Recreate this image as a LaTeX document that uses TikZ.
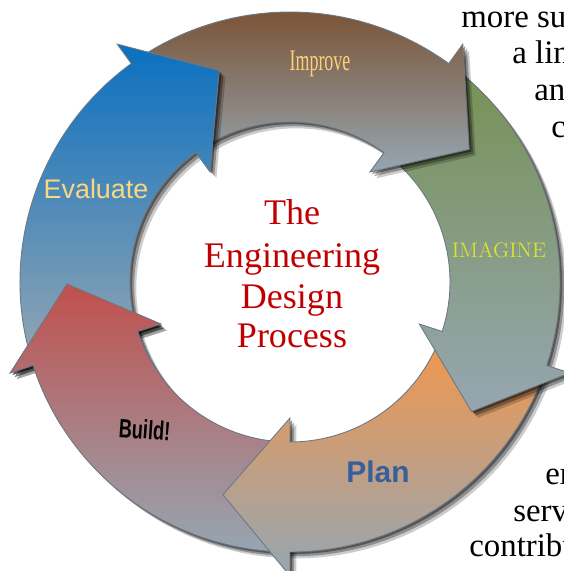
\documentclass[tikz,border=0pt]{standalone}
\usepackage{fontspec}
\usepackage{graphicx}
\usepackage{xcolor}
\usepackage{tikz}
\usetikzlibrary{shadows}
\newfontfamily\pagefont{Liberation Serif}
\newfontfamily\labelsans{Liberation Sans}

\definecolor{evalblue}{RGB}{10,112,192}
\definecolor{improvebrown}{RGB}{120,76,42}
\definecolor{imaginegreen}{RGB}{118,145,82}
\definecolor{planorange}{RGB}{246,150,72}
\definecolor{buildred}{RGB}{192,80,77}
\definecolor{fadegray}{RGB}{150,166,178}
\definecolor{edgegray}{RGB}{110,120,130}
\definecolor{titlered}{RGB}{192,0,0}
\definecolor{evaltext}{RGB}{250,215,130}
\definecolor{improvetext}{RGB}{250,210,120}
\definecolor{imaginetext}{RGB}{218,228,45}
\definecolor{plantext}{RGB}{55,95,155}

\tikzset{
  ringarrow/.style={draw=edgegray, line width=0.5pt, top color=#1, bottom color=fadegray},
  ringshadow/.style={
    general shadow={shadow xshift=1.2pt, shadow yshift=-1.2pt, fill=black, opacity=0.4},
    general shadow={shadow xshift=2.4pt, shadow yshift=-2.4pt, fill=black, opacity=0.3},
    general shadow={shadow xshift=3.6pt, shadow yshift=-3.6pt, fill=black, opacity=0.2}},
  steplabel/.style={anchor=base, inner sep=0pt},
  titletext/.style={anchor=base, inner sep=0pt, text=titlered, font=\pagefont\fontsize{20.5}{24}\selectfont},
  pagetext/.style={anchor=base west, inner sep=0pt, font=\pagefont\fontsize{18.7}{22}\selectfont}
}

\begin{document}
\begin{tikzpicture}[scale=0.02]
\useasboundingbox (0,0) rectangle (564,571);
\clip (0,0) rectangle (564,571);

% five curved arrows round the cycle
\begin{scope}[shift={(290,289)}]
\foreach \ang/\tone in {198/buildred, 270/planorange, 342/imaginegreen, 414/improvebrown, 486/evalblue}
  \draw[ringarrow=\tone, ringshadow] ({\ang+72}:270) arc[start angle=\ang+72, end angle=\ang, radius=270]
    -- (\ang:294) -- ({\ang-17.5}:223) -- (\ang:136) -- (\ang:160)
    arc[start angle=\ang, end angle=\ang+72, radius=160] -- cycle;
% head of Build! again, over the tail of Evaluate
\path[ringshadow] (198:294) -- (180.5:223) -- (198:136) -- cycle;
\begin{scope}
\clip (0,0) -- (212:330) arc[start angle=212, end angle=174, radius=330] -- cycle;
\draw[ringarrow=buildred] (270:270) arc[start angle=270, end angle=198, radius=270]
  -- (198:294) -- (180.5:223) -- (198:136) -- (198:160)
  arc[start angle=198, end angle=270, radius=160] -- cycle;
\end{scope}
\end{scope}

% step labels
\node[steplabel, text=evaltext, font=\labelsans\fontsize{15.3}{18}\selectfont] (evaluate) at (96,373) {Evaluate};
\node[steplabel, text=improvetext, font=\pagefont\fontsize{17}{20}\selectfont] (improve) at (320,500) {\scalebox{0.6}[1]{Improve}};
\node[steplabel, text=imaginetext, font=\fontsize{12}{14}\selectfont] (imagine) at (499,314) {IMAGINE};
\node[steplabel, text=plantext, font=\labelsans\bfseries\fontsize{17}{20}\selectfont] (plan) at (378,89) {Plan};
\node[steplabel, text=black, rotate=-4, font=\labelsans\bfseries\fontsize{15}{18}\selectfont] (build) at (144,132) {\scalebox{0.69}[1]{Build!}};

% title in the middle
\foreach \word/\y [count=\n] in {The/346, Engineering/304, Design/263, Process/223}
  \node[titletext] (title\n) at (292,\y) {\word};

% page text beside the figure
\node[pagetext] (line1) at (461,544) {more su};
\node[pagetext] (line2) at (512,508) {a lin};
\node[pagetext] (line3) at (534,471) {an};
\node[pagetext] (line4) at (551,434) {c};
\node[pagetext] (line5) at (545,86) {er};
\node[pagetext] (line6) at (513,49) {serv};
\node[pagetext] (line7) at (469,14) {contribu};
\end{tikzpicture}
\end{document}
